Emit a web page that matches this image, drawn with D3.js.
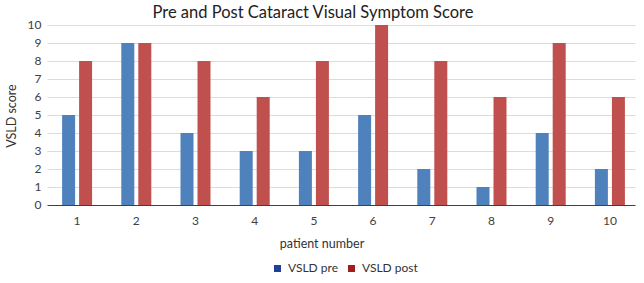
<!DOCTYPE html>
<html><head><meta charset="utf-8">
<script src="https://cdn.jsdelivr.net/npm/d3@7"></script>
<style>body{margin:0;background:#fff}svg{display:block}text{font-family:Lato,"Open Sans",sans-serif}</style>
</head><body><div id="c"></div>
<script>
const categories = ["1","2","3","4","5","6","7","8","9","10"];
const seriesNames = ["VSLD pre","VSLD post"];
const preValues = [5,9,4,3,3,5,2,1,4,2];
const postValues = [8,9,8,6,8,10,8,6,9,6];
const yTicks = [0,1,2,3,4,5,6,7,8,9,10];

const W=644,H=283;
const m={left:47.5,right:4.5,top:25,bottom:78};
const svg=d3.select("#c").append("svg").attr("width",W).attr("height",H);
const x=d3.scaleBand().domain(categories).range([m.left,W-m.right]);
const y=d3.scaleLinear().domain([0,10]).range([H-m.bottom,m.top]);
const barColors=["#4f81bd","#c0504d"];
const legendColors=["#1f3f99","#a51c1c"];

// grid
svg.append("g").selectAll("line").data(yTicks.filter(d=>d>0)).join("line")
 .attr("x1",m.left).attr("x2",W-m.right-4).attr("y1",d=>Math.round(y(d))+0.5).attr("y2",d=>Math.round(y(d))+0.5)
 .attr("stroke","#dcdcdc").attr("stroke-width",1);

const bw=13, gap=4;
const data=categories.map((c,i)=>({c,vals:[preValues[i],postValues[i]]}));
const g=svg.append("g");
data.forEach(d=>{
  const cx=x(d.c)+x.bandwidth()/2;
  d.vals.forEach((v,j)=>{
    const bx = j===0? cx-gap/2-bw : cx+gap/2;
    g.append("rect").attr("x",bx).attr("width",bw).attr("y",y(v)).attr("height",y(0)-y(v)).attr("fill",barColors[j]);
  });
});

// y axis labels
const ya=svg.append("g").attr("transform",`translate(${m.left-6},0)`)
 .call(d3.axisLeft(y).tickValues(yTicks).tickSize(0).tickPadding(0));
ya.select(".domain").remove();
ya.selectAll("text").attr("font-size",12).attr("fill","#404040").attr("font-family","Lato,sans-serif");

// x axis
const xa=svg.append("g").attr("transform",`translate(0,${y(0)})`)
 .call(d3.axisBottom(x).tickSize(0).tickPadding(11));
xa.select(".domain").attr("stroke","#404040").attr("d",`M${m.left},0.5H${W-m.right-4}`);
xa.selectAll("text").attr("font-size",12).attr("fill","#404040").attr("font-family","Lato,sans-serif");

// title
svg.append("text").attr("x",313).attr("y",18).attr("text-anchor","middle").attr("font-size",16.5).attr("fill","#222")
 .text("Pre and Post Cataract Visual Symptom Score");
// axis titles
svg.append("text").attr("x",322).attr("y",248).attr("text-anchor","middle").attr("font-size",12.5).attr("fill","#333").text("patient number");
svg.append("text").attr("transform","translate(16,116) rotate(-90)").attr("text-anchor","middle").attr("font-size",12.5).attr("fill","#333").text("VSLD score");

// legend
const lg=svg.append("g");
const lx=[274,348];
seriesNames.forEach((n,i)=>{
  lg.append("rect").attr("x",lx[i]).attr("y",265).attr("width",7).attr("height",7).attr("fill",legendColors[i]);
  lg.append("text").attr("x",lx[i]+14).attr("y",272).attr("font-size",12).attr("fill","#333").text(n);
});
</script></body></html>
